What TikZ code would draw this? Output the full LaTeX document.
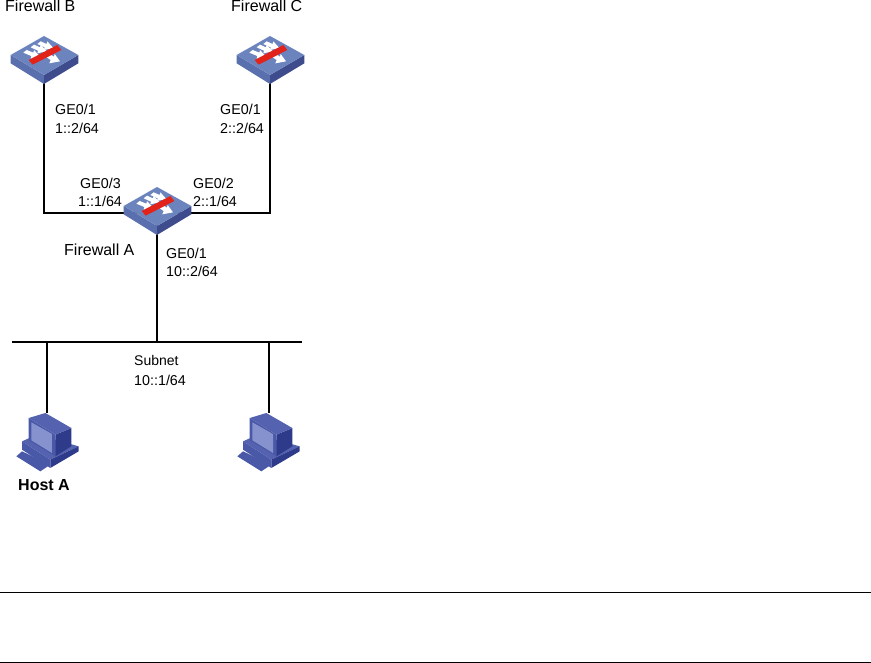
\documentclass[tikz,border=0pt]{standalone}
\usepackage{fontspec}
\setmainfont{Liberation Sans}
\definecolor{fwtop}{HTML}{6C84BE}
\definecolor{fwleft}{HTML}{5A70AE}
\definecolor{fwright}{HTML}{3E4C8E}
\definecolor{fwred}{HTML}{E2231A}
\definecolor{hostmid}{HTML}{4A58A8}
\definecolor{hostdark}{HTML}{2E3A8A}
\definecolor{hostlight}{HTML}{5462B0}
\definecolor{hostscreen}{HTML}{8692CE}
\tikzset{
  lbl/.style={anchor=base west,inner sep=0pt,font=\fontsize{14.3}{15}\selectfont},
  fwlbl/.style={anchor=base west,inner sep=0pt,font=\fontsize{16}{16}\selectfont},
  sublbl/.style={anchor=base west,inner sep=0pt,font=\fontsize{14}{14}\selectfont},
  hostlbl/.style={anchor=base west,inner sep=0pt,font=\fontsize{16}{16}\selectfont\bfseries},
  wire/.style={line width=2.8pt,black},
  rule/.style={line width=0.7pt,black},
  fwicon/.pic={
    \begin{scope}[x=0.3333pt,y=-0.3333pt,shift={(-130,-108)}]
      \fill[fwleft] (30,165)--(130,225)--(130,252)--(30,190)--cycle;
      \fill[fwright] (233,165)--(130,225)--(130,252)--(233,190)--cycle;
      \fill[fwtop] (30,165)--(130,108)--(233,165)--(130,225)--cycle;
      \fill[white] (68,158)--(78,150)--(98,158)--(100,150)--(118,170)--(90,176)--(92,168)--cycle;
      \fill[white] (90,142)--(100,134)--(118,142)--(120,134)--(138,154)--(110,160)--(112,152)--cycle;
      \fill[white] (110,132)--(120,124)--(138,132)--(140,124)--(158,144)--(130,150)--(132,142)--cycle;
      \fill[white] (138,172)--(150,164)--(160,170)--(162,162)--(178,184)--(146,190)--(150,180)--cycle;
      \fill[fwred] (84,180)--(170,135)--(182,150)--(96,194)--cycle;
    \end{scope}
  },
  pcicon/.pic={
    \begin{scope}[x=0.3333pt,y=-0.3333pt,shift={(-140,-40)}]
      \fill[hostmid] (48,170)--(65,155)--(150,195)--(120,215)--cycle;
      \fill[hostlight] (65,125)--(110,105)--(235,140)--(150,180)--cycle;
      \fill[hostdark] (150,180)--(235,140)--(235,155)--(150,205)--cycle;
      \fill[hostmid] (65,125)--(150,180)--(150,205)--(65,150)--cycle;
      \fill[hostdark] (165,105)--(213,85)--(213,140)--(165,170)--cycle;
      \fill[hostlight] (85,55)--(135,40)--(213,85)--(165,105)--cycle;
      \fill[hostmid] (85,55)--(165,105)--(165,170)--(85,122)--cycle;
      \fill[hostscreen] (93,68)--(155,103)--(155,160)--(93,122)--cycle;
    \end{scope}
  }
}
\begin{document}
\begin{tikzpicture}[x=1pt,y=-1pt]
\useasboundingbox (0,0) rectangle (871,663);
% anchors
\coordinate (fwB) at (44,76);
\coordinate (fwC) at (270,76);
\coordinate (fwA) at (157,213);
\coordinate (busL) at (12,342);
\coordinate (busR) at (302,342);
\coordinate (busA) at (157,342);
\coordinate (busH1) at (47,342);
\coordinate (busH2) at (269,342);
\coordinate (pc1) at (47,413);
\coordinate (pc2) at (269,413);
\coordinate (ruleAL) at (0,592);
\coordinate (ruleAR) at (871,592);
\coordinate (ruleBL) at (0,662);
\coordinate (ruleBR) at (871,662);
% connectors
\draw[wire] (fwB) |- (fwA);
\draw[wire] (fwC) |- (fwA);
\draw[wire] (fwA) -- (busA);
\draw[wire] (busL) -- (busR);
\draw[wire] (busH1) -- (pc1);
\draw[wire] (busH2) -- (pc2);
\draw[rule] (ruleAL) -- (ruleAR);
\draw[rule] (ruleBL) -- (ruleBR);
% icons
\pic at (44,36) {fwicon};
\pic at (270,36) {fwicon};
\pic at (157,187) {fwicon};
\pic at (47,413) {pcicon};
\pic at (268,413) {pcicon};
% labels
\node[fwlbl] (tB) at (5,12) {Firewall B};
\node[fwlbl] (tC) at (231,12) {Firewall C};
\node[fwlbl] (tA) at (64,256) {Firewall A};
\node[lbl] (b1) at (55,115) {GE0/1};
\node[lbl] (b2) at (55,134) {1::2/64};
\node[lbl] (c1) at (220,115) {GE0/1};
\node[lbl] (c2) at (220,134) {2::2/64};
\node[lbl] (a31) at (80,189) {GE0/3};
\node[lbl] (a32) at (78,207) {1::1/64};
\node[lbl] (a21) at (193,189) {GE0/2};
\node[lbl] (a22) at (193,207) {2::1/64};
\node[lbl] (a11) at (166,259) {GE0/1};
\node[lbl] (a12) at (166,277) {10::2/64};
\node[sublbl] (s1) at (134,366) {Subnet};
\node[lbl] (s2) at (134,385) {10::1/64};
\node[hostlbl] (hA) at (18,490) {Host A};
\end{tikzpicture}
\end{document}
